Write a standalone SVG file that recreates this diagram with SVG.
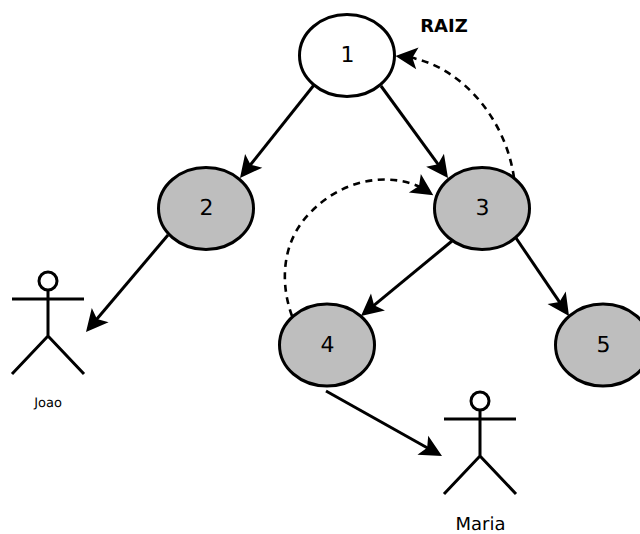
<svg xmlns="http://www.w3.org/2000/svg" width="640" height="534" viewBox="0 0 640 534">
<style>
text{text-rendering:geometricPrecision}
.w{fill:#fff;stroke:#000;stroke-width:3}
.g{fill:#bebebe;stroke:#000;stroke-width:3}
.n{font-family:"DejaVu Sans",sans-serif;font-size:22px;text-anchor:middle;fill:#000}
.l{font-family:"DejaVu Sans",sans-serif;text-anchor:middle;fill:#000}
.c{fill:none;stroke:#000;stroke-width:3}
.d{fill:none;stroke:#000;stroke-width:2.6;stroke-dasharray:7 5.5}
.a{fill:none;stroke:#000;stroke-width:3}
.h{fill:#fff;stroke:#000;stroke-width:3}
</style>
<defs>
<path id="ah" d="M0,0 L-22,-11 L-17,0 L-22,11 Z" fill="#000"/>
</defs>
<g id="connectors">
<path class="c" d="M314,85 L248.7,167"/>
<use href="#ah" transform="translate(240 178) rotate(128.5)"/>
<path class="c" d="M381,86 L439.8,166.7"/>
<use href="#ah" transform="translate(448 178) rotate(53.9)"/>
<path class="c" d="M168,235 L95,321.3"/>
<use href="#ah" transform="translate(86 332) rotate(130.2)"/>
<path class="c" d="M452,241 L371.8,307.1"/>
<use href="#ah" transform="translate(361 316) rotate(140.5)"/>
<path class="c" d="M516,238 L561.1,304.4"/>
<use href="#ah" transform="translate(569 316) rotate(55.8)"/>
<path class="c" d="M326,391 L429.8,449.2"/>
<use href="#ah" transform="translate(442 456) rotate(29.3)"/>
<path class="d" d="M514,178 C506,120 463,68 410.900,57.600"/>
<use href="#ah" transform="translate(395.500 56) rotate(186.1)"/>
<path class="d" d="M292,316 C279,280 283,240 310,213 C340,181 385,171 420.700,187.100"/>
<use href="#ah" transform="translate(433.300 195.300) rotate(33)"/>
</g>
<g id="node1"><ellipse class="w" cx="347" cy="55.5" rx="47.5" ry="41"/><text class="n" x="347.5" y="62">1</text></g>
<g id="node2"><ellipse class="g" cx="206" cy="208.5" rx="47.5" ry="41"/><text class="n" x="206.500" y="215">2</text></g>
<g id="node3"><ellipse class="g" cx="482" cy="208.5" rx="47.5" ry="41"/><text class="n" x="482.500" y="215">3</text></g>
<g id="node4"><ellipse class="g" cx="327" cy="345" rx="47.5" ry="41"/><text class="n" x="327.500" y="351.500">4</text></g>
<g id="node5"><ellipse class="g" cx="603" cy="345" rx="47.5" ry="41"/><text class="n" x="603.500" y="351.500">5</text></g>
<g id="raiz"><text class="l" x="444" y="32" font-size="18" font-weight="bold">RAIZ</text></g>
<g id="joao">
<circle class="h" cx="48" cy="281" r="9"/>
<path class="a" d="M12,299 H84 M48,290 V336 L12,374 M48,336 L84,374"/>
<text class="l" x="48" y="407" font-size="13">Joao</text>
</g>
<g id="maria">
<circle class="h" cx="480" cy="401" r="9"/>
<path class="a" d="M444,419 H516 M480,410 V456 L444,494 M480,456 L516,494"/>
<text class="l" x="480.500" y="530" font-size="18">Maria</text>
</g>
</svg>
